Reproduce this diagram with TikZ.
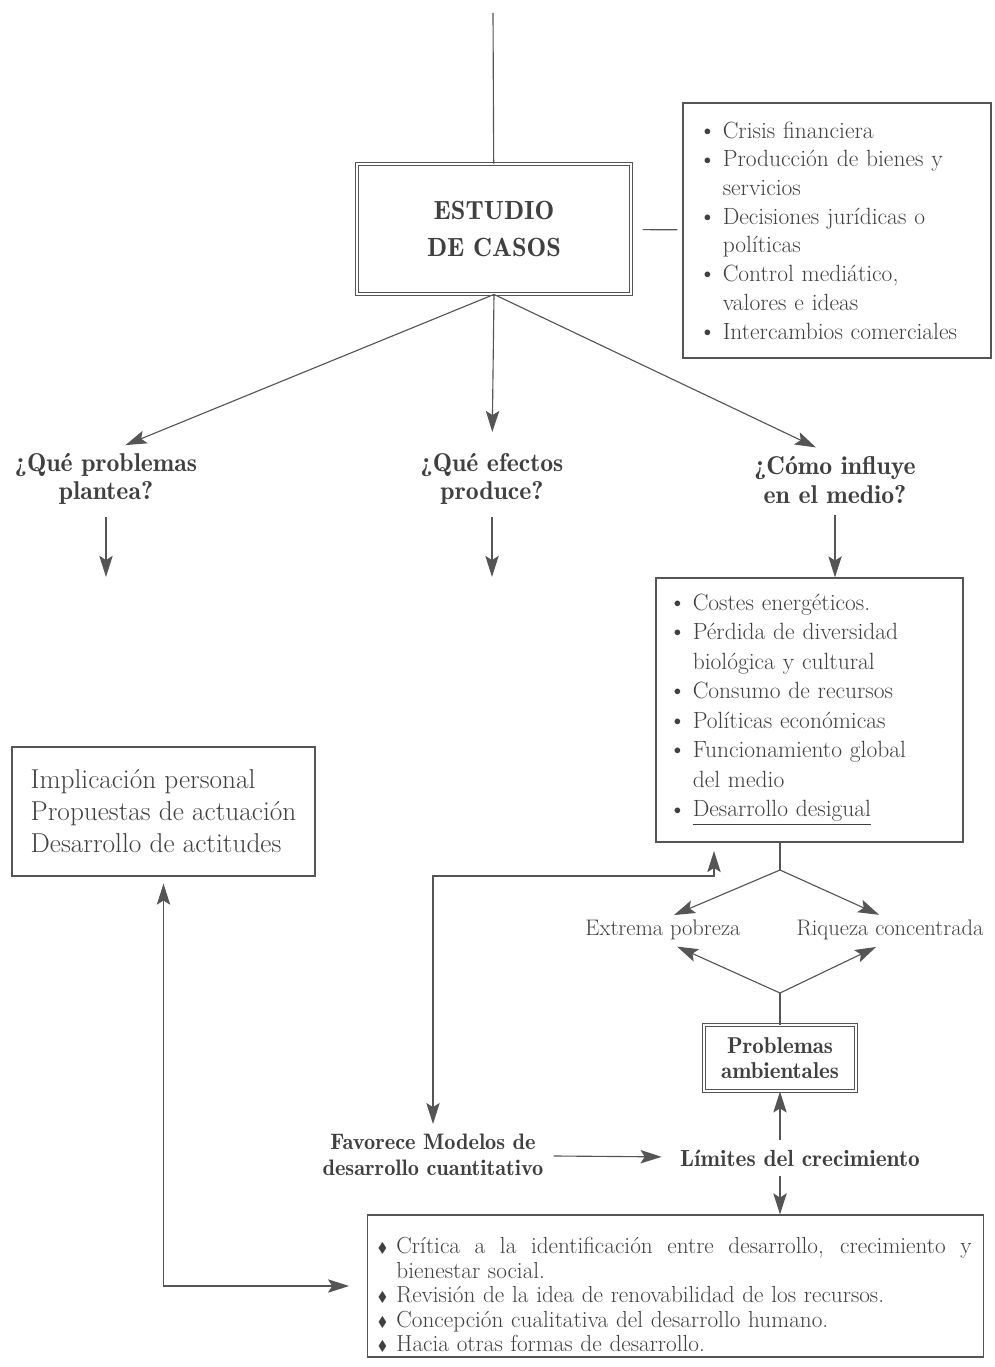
\documentclass[tikz,border=0pt]{standalone}
\usepackage{amsmath, amssymb}
\usepackage{graphicx}
\usepackage{tikz}
\usetikzlibrary{arrows.meta, positioning, calc}
\definecolor{gristexto}{HTML}{404040}
\definecolor{grislinea}{HTML}{555555}

\newcommand{\vineta}{\makebox[0.8em][l]{\raisebox{0.12em}{\scalebox{0.6}{$\bullet$}}}}
\newcommand{\sangria}{\hspace*{0.8em}}
\newcommand{\rombo}{\makebox[0.8em][l]{\raisebox{0.05em}{\scalebox{0.6}{$\blacklozenge$}}}}

\begin{document}
\begin{tikzpicture}[x=0.025cm, y=-0.025cm,
  >={Stealth[length=15pt, width=9.5pt, inset=3pt]},
  conector/.style={draw=grislinea, line width=0.8pt},
  flecha/.style={conector, ->},
  dobleflecha/.style={conector, <->},
  caja/.style={draw=grislinea, line width=0.8pt, text=gristexto, inner sep=0pt, align=left},
  cajadoble/.style={draw=grislinea, line width=0.6pt, double, double distance=1.5pt,
                    text=gristexto, align=center, inner sep=0pt},
  pregunta/.style={text=gristexto, align=center, inner sep=0pt,
                   font=\fontsize{18.3}{20}\selectfont\fontseries{b}\selectfont},
  efecto/.style={text=gristexto, inner sep=0pt, font=\fontsize{16}{18}\selectfont},
]
  \path[fill=white, use as bounding box] (0,0) rectangle (994,1367);

  % Caso central
  \coordinate (arriba) at (493,13);
  \node[cajadoble, minimum width=6.85cm, minimum height=3.25cm,
        font=\fontsize{18.7}{26}\selectfont\fontseries{b}\selectfont] (estudio) at (494,229) {ESTUDIO\\DE CASOS};

  % Tipos de casos
  \node[caja, text width=6.65cm, inner xsep=0.525cm, minimum height=6.375cm,
        font=\fontsize{16.7}{20.4}\selectfont] (factores) at (837,230.5) {%
    \vineta Crisis financiera\\
    \vineta Producción de bienes y\\
    \sangria servicios\\
    \vineta Decisiones jurídicas o\\
    \sangria políticas\\
    \vineta Control mediático,\\
    \sangria valores e ideas\\
    \vineta Intercambios comerciales};

  % Preguntas
  \node[pregunta] (q1) at (106,479) {¿Qué problemas\\plantea?};
  \node[pregunta] (q2) at (492,479) {¿Qué efectos\\produce?};
  \node[pregunta] (q3) at (835,480) {¿Cómo influye\\en el medio?};
  \coordinate (fin1) at ($(q1.south)+(0,72)$);
  \coordinate (fin2) at ($(q2.south)+(0,72)$);

  % Influencia en el medio
  \node[caja, text width=6.775cm, inner xsep=0.45cm, minimum height=6.6cm,
        font=\fontsize{16.7}{21}\selectfont] (impactos) at (809.5,710) {%
    \vineta Costes energéticos.\\
    \vineta Pérdida de diversidad\\
    \sangria biológica y cultural\\
    \vineta Consumo de recursos\\
    \vineta Políticas económicas\\
    \vineta Funcionamiento global\\
    \sangria del medio\\
    \vineta \underline{Desarrollo desigual}};

  % Actuaciones
  \node[caja, minimum width=7.575cm, minimum height=3.225cm,
        font=\fontsize{19.4}{22.8}\selectfont] (acciones) at (163.5,811.5) {%
    Implicación personal\\Propuestas de actuación\\Desarrollo de actitudes};

  % Desigualdad
  \coordinate (bifA) at (780,870);
  \coordinate (bifB) at (780,993);
  \node[efecto] (pobreza) at (663,930) {Extrema pobreza};
  \node[efecto] (riqueza) at (890,930) {Riqueza concentrada};

  \node[cajadoble, minimum width=3.78cm, minimum height=1.65cm,
        font=\fontsize{16.3}{17.5}\selectfont\fontseries{b}\selectfont] (problemas) at (780,1058) {Problemas\\ambientales};

  % Modelos y limites
  \node[text=gristexto, inner xsep=0pt, inner ysep=7pt,
        font=\fontsize{16.6}{19}\selectfont\fontseries{b}\selectfont] (limites) at (800,1158) {Límites del crecimiento};
  \node[pregunta, font=\fontsize{15.9}{18.5}\selectfont\fontseries{b}\selectfont] (favorece) at (433,1155) {Favorece Modelos de\\desarrollo cuantitativo};
  \coordinate (codo) at (714,876);

  % Conclusiones
  \node[caja, text width=14.875cm, inner xsep=0.25cm, minimum height=3.55cm,
        font=\fontsize{16.5}{17.4}\selectfont] (conclusiones) at (675.5,1286) {%
    \rule{0pt}{24pt}\rombo\makebox[409pt][s]{\spaceskip=.33em plus 1em\relax Crítica a la identificación entre desarrollo, crecimiento y}\\
    \sangria bienestar social.\\
    \rombo Revisión de la idea de renovabilidad de los recursos.\\
    \rombo Concepción cualitativa del desarrollo humano.\\
    \rombo Hacia otras formas de desarrollo.};

  % Conexiones superiores
  \draw[conector] (arriba) -- (estudio);
  \draw[conector, shorten <=8pt, shorten >=3.5pt] (estudio) -- (factores);
  \draw[flecha, shorten >=15pt] (estudio.south) -- (q1.north);
  \draw[flecha, shorten >=15pt] (estudio.south) -- (q2.north);
  \draw[flecha, shorten >=15pt] (estudio.south) -- (q3.north);
  \draw[flecha, shorten <=8.5pt] (q1.south) -- (fin1);
  \draw[flecha, shorten <=8.5pt] (q2.south) -- (fin2);
  \draw[flecha, shorten <=8.5pt] (q3.south) -- (q3.south |- impactos.north);

  % Desarrollo desigual
  \draw[conector] (bifA |- impactos.south) -- (bifA);
  \draw[flecha, shorten >=8.5pt] (bifA) -- (pobreza.north);
  \draw[flecha, shorten >=8.5pt] (bifA) -- (riqueza.north);
  \draw[conector] (problemas.north) -- (bifB);
  \draw[flecha, shorten >=11pt] (bifB) -- (pobreza.south);
  \draw[flecha, shorten >=11pt] (bifB) -- (riqueza.south);

  % Limites del crecimiento
  \draw[flecha] (limites.north -| problemas.south) -- (problemas.south);
  \draw[flecha] (limites.south -| problemas.south) -- (conclusiones.north -| problemas.south);
  \draw[flecha, shorten <=7pt, shorten >=13pt] (favorece) -- (limites);
  \draw[dobleflecha, shorten <=7pt, shorten >=6pt] (favorece.north) |- (codo) -- (codo |- impactos.south);
  \draw[dobleflecha, shorten <=5pt, shorten >=13pt] (acciones.south) |- (conclusiones.west);
\end{tikzpicture}
\end{document}
